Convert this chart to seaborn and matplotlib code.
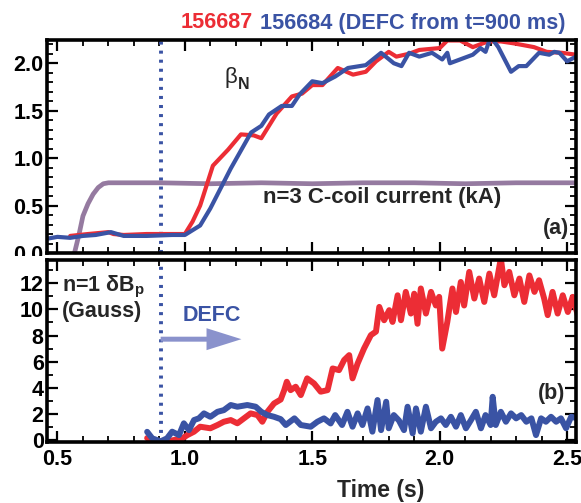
import matplotlib
matplotlib.use("Agg")
import numpy as np
import pandas as pd
import seaborn as sns
import matplotlib.pyplot as plt
from matplotlib.ticker import MultipleLocator, FormatStrFormatter
from matplotlib.patches import Rectangle

# ---------------- data ----------------
# beta_N, shot 156687 (red)
bn_red_t = [0.55, 0.62, 0.70, 0.72, 0.76, 0.85, 0.95, 1.00, 1.03, 1.06, 1.11, 1.17, 1.22, 1.27,
            1.30, 1.36, 1.42, 1.46, 1.50, 1.54, 1.60, 1.66, 1.71, 1.75, 1.80, 1.83, 1.88, 1.92,
            2.00, 2.03, 2.08, 2.13, 2.19, 2.24, 2.29, 2.37, 2.42, 2.48, 2.535]
bn_red_v = [0.18, 0.20, 0.22, 0.20, 0.19, 0.20, 0.20, 0.20, 0.33, 0.50, 0.92, 1.09, 1.25, 1.24,
            1.21, 1.47, 1.65, 1.68, 1.77, 1.77, 1.95, 1.88, 1.91, 2.02, 2.12, 2.07, 2.10, 2.14,
            2.16, 2.24, 2.24, 2.17, 2.23, 2.23, 2.21, 2.17, 2.12, 2.11, 2.09]
# beta_N, shot 156684 (blue)
bn_blue_t = [0.458, 0.50, 0.55, 0.60, 0.65, 0.71, 0.76, 0.85, 0.95, 1.00, 1.06, 1.10, 1.18, 1.26,
             1.30, 1.33, 1.38, 1.42, 1.45, 1.50, 1.54, 1.59, 1.64, 1.71, 1.77, 1.82, 1.85, 1.88,
             1.92, 1.97, 2.01, 2.03, 2.04, 2.08, 2.13, 2.16, 2.18, 2.20, 2.23, 2.28, 2.31, 2.34,
             2.39, 2.43, 2.45, 2.47, 2.50, 2.535]
bn_blue_v = [0.15, 0.17, 0.16, 0.18, 0.19, 0.22, 0.18, 0.18, 0.19, 0.19, 0.29, 0.47, 0.89, 1.27,
             1.34, 1.46, 1.55, 1.55, 1.67, 1.81, 1.79, 1.86, 1.95, 1.98, 2.11, 2.00, 1.97, 2.11,
             2.07, 2.11, 2.04, 2.11, 2.00, 2.04, 2.09, 2.16, 2.12, 2.28, 2.17, 1.91, 1.97, 1.97,
             2.11, 2.09, 2.12, 2.11, 2.02, 2.07]
# n=3 C-coil current (kA)
ccoil_t = [0.458, 0.565, 0.585, 0.60, 0.62, 0.64, 0.66, 0.68, 0.70, 0.90, 1.10, 1.30, 1.50,
           1.70, 1.90, 2.10, 2.30, 2.535]
ccoil_v = [-0.03, -0.02, 0.20, 0.39, 0.52, 0.62, 0.69, 0.73, 0.74, 0.74, 0.73, 0.74, 0.73,
           0.74, 0.74, 0.73, 0.74, 0.74]

# n=1 dBp (Gauss), shot 156687 (red)
db_red_t = [0.852, 0.87, 0.89, 0.93, 0.957, 0.99, 1.01, 1.036, 1.06, 1.10, 1.128, 1.153, 1.18,
            1.206, 1.232, 1.258, 1.285, 1.304, 1.324, 1.35, 1.376, 1.39, 1.40, 1.415, 1.435,
            1.455, 1.48, 1.507, 1.533, 1.56, 1.58, 1.605, 1.625, 1.645, 1.658, 1.678, 1.703,
            1.73, 1.75, 1.763, 1.782, 1.802, 1.815, 1.835, 1.848, 1.867, 1.887, 1.90, 1.913,
            1.926, 1.946, 1.966, 1.985, 1.998, 2.01, 2.03, 2.05, 2.064, 2.083, 2.096, 2.116,
            2.136, 2.155, 2.175, 2.195, 2.214, 2.24, 2.254, 2.273, 2.293, 2.313, 2.332, 2.352,
            2.372, 2.39, 2.41, 2.424, 2.443, 2.463, 2.483, 2.503, 2.522, 2.542]
db_red_v = [0.15, 0.0, -0.2, -0.1, 0.0, 0.13, 0.38, 0.64, 1.02, 0.9, 1.15, 1.4, 1.53,
            1.28, 1.66, 2.04, 1.91, 1.4, 2.16, 2.8, 3.1, 3.82, 4.46, 3.82, 4.08,
            3.44, 4.72, 4.33, 3.7, 3.82, 5.48, 5.35, 6.12, 6.5, 4.72, 5.86, 7.0,
            8.03, 8.3, 10.19, 9.17, 9.94, 9.04, 11.08, 9.17, 11.34, 9.68, 11.2, 8.9,
            11.6, 9.68, 11.34, 10.3, 10.96, 7.0, 9.04, 11.6, 9.8, 12.1, 10.3, 12.87,
            10.83, 12.36, 10.57, 12.74, 11.08, 13.9, 11.85, 12.87, 11.08, 12.36, 10.57, 12.6,
            11.34, 12.23, 10.83, 9.56, 11.34, 9.68, 11.08, 9.8, 10.96, 9.56]
# n=1 dBp (Gauss), shot 156684 (blue)
db_blue_t = [0.852, 0.872, 0.905, 0.93, 0.95, 0.977, 0.996, 1.016, 1.036, 1.055, 1.075, 1.10,
             1.128, 1.153, 1.18, 1.206, 1.245, 1.278, 1.30, 1.324, 1.35, 1.376, 1.396, 1.43,
             1.455, 1.494, 1.52, 1.546, 1.572, 1.59, 1.617, 1.638, 1.658, 1.678, 1.697, 1.717,
             1.736, 1.756, 1.77, 1.79, 1.80, 1.82, 1.84, 1.86, 1.874, 1.894, 1.907, 1.926,
             1.946, 1.966, 1.985, 2.005, 2.024, 2.044, 2.064, 2.083, 2.103, 2.122, 2.142,
             2.162, 2.18, 2.20, 2.208, 2.22, 2.24, 2.26, 2.28, 2.30, 2.32, 2.34, 2.36, 2.378,
             2.398, 2.417, 2.437, 2.457, 2.476, 2.496, 2.516, 2.542]
db_blue_v = [0.63, 0.13, -0.1, 0.13, 0.64, 0.38, 1.28, 0.76, 1.53, 1.66, 2.04, 1.78,
             2.16, 2.29, 2.68, 2.55, 2.68, 2.55, 2.16, 1.91, 1.78, 1.6, 1.15, 1.66,
             1.15, 1.02, 1.4, 1.66, 1.27, 1.91, 1.15, 2.16, 1.02, 2.04, 1.15, 2.42,
             0.64, 3.06, 0.76, 2.93, 0.9, 1.91, 1.5, 0.76, 2.55, 0.51, 2.42, 0.64,
             2.55, 0.9, 1.4, 1.66, 1.15, 1.78, 1.02, 1.91, 0.9, 1.5, 2.16,
             0.9, 1.91, 1.15, 3.31, 1.15, 2.16, 1.4, 2.04, 1.66, 1.91, 1.4, 1.66, 0.38,
             1.66, 1.4, 1.78, 1.4, 1.66, 0.9, 1.78, 1.66]

x_ticks = [0.5, 1.0, 1.5, 2.0, 2.5]
top_yticks = [0.0, 0.5, 1.0, 1.5, 2.0]
bot_yticks = [0, 2, 4, 6, 8, 10, 12]
defc_time = 0.905

# ---------------- style ----------------
sns.set_theme(style="ticks")
plt.rcParams["font.family"] = ["Liberation Sans", "DejaVu Sans"]
plt.rcParams["font.weight"] = "bold"
plt.rcParams["mathtext.fontset"] = "custom"
plt.rcParams["mathtext.rm"] = "Liberation Sans"
plt.rcParams["mathtext.bf"] = "Liberation Sans:bold"
plt.rcParams["mathtext.it"] = "Liberation Sans:italic"

RED = "#ec2d35"
BLUE = "#3a53a4"
PURPLE = "#8a6c96"
ARROW = "#8a92cc"

W, H = 581, 503
fig = plt.figure(figsize=(W / 100, H / 100), dpi=100)
ax1 = fig.add_axes([46.5 / W, 1 - 253 / H, 529.5 / W, 213 / H])
ax2 = fig.add_axes([46.5 / W, 1 - 442 / H, 529.5 / W, 182 / H])

# ---------------- top panel ----------------
sns.lineplot(data=pd.DataFrame({"t": ccoil_t, "v": ccoil_v}), x="t", y="v", ax=ax1,
             color=PURPLE, lw=3.4, sort=False, estimator=None, alpha=0.9)
sns.lineplot(data=pd.DataFrame({"t": bn_red_t, "v": bn_red_v}), x="t", y="v", ax=ax1,
             color=RED, lw=3.0, sort=False, estimator=None)
sns.lineplot(data=pd.DataFrame({"t": bn_blue_t, "v": bn_blue_v}), x="t", y="v", ax=ax1,
             color=BLUE, lw=3.0, sort=False, estimator=None)

# ---------------- bottom panel ----------------
sns.lineplot(data=pd.DataFrame({"t": db_red_t, "v": db_red_v}), x="t", y="v", ax=ax2,
             color=RED, lw=4.3, sort=False, estimator=None)
sns.lineplot(data=pd.DataFrame({"t": db_blue_t, "v": db_blue_v}), x="t", y="v", ax=ax2,
             color=BLUE, lw=4.3, sort=False, estimator=None)

for ax in (ax1, ax2):
    ax.axvline(defc_time, color=BLUE, lw=2.8, dashes=(0.78, 1.55), zorder=1)
    ax.set_xlim(0.457, 2.535)
    ax.set_xlabel("")
    ax.set_ylabel("")
    ax.set_xticks(x_ticks)
    ax.xaxis.set_minor_locator(MultipleLocator(0.1))
    ax.tick_params(which="both", direction="in", top=True, right=True,
                   labelsize=15.5, width=1.6, colors="black")
    ax.tick_params(which="major", length=8)
    ax.tick_params(which="minor", length=4, width=1.3)
    ax.tick_params(axis="y", pad=2)
    ax.tick_params(axis="x", pad=5)
    for s in ax.spines.values():
        s.set_linewidth(2.6)
        s.set_color("black")

ax1.set_ylim(0.01, 2.245)
ax1.set_yticks(top_yticks)
ax1.yaxis.set_minor_locator(MultipleLocator(0.1))
ax1.yaxis.set_major_formatter(FormatStrFormatter("%.1f"))
ax1.tick_params(labelbottom=False)

ax2.set_ylim(-0.15, 13.78)
ax2.set_yticks(bot_yticks)
ax2.yaxis.set_minor_locator(MultipleLocator(1))
ax2.xaxis.set_major_formatter(FormatStrFormatter("%.1f"))
for lab in ax1.get_yticklabels() + ax2.get_xticklabels() + ax2.get_yticklabels():
    lab.set_fontweight("bold")

# annotations top
ax1.text(1.157, 1.794, "β", fontsize=16, fontweight="normal", va="baseline", ha="left")
ax1.text(1.208, 1.73, "N", fontsize=11.5, fontweight="bold", va="baseline", ha="left")
ax1.text(1.306, 0.59, "n=3 C-coil current (kA)", fontsize=16, fontweight="bold",
         va="center", ha="left")
ax1.text(2.404, 0.26, "(a)", fontsize=15.5, fontweight="bold", va="center", ha="left")

# annotations bottom
ax2.text(0.518, 11.4, r"n=1 δB$_{\mathbf{p}}$", fontsize=15.5, fontweight="bold",
         va="baseline", ha="left")
ax2.text(0.518, 9.8, "(Gauss)", fontsize=15.5, fontweight="bold", va="center", ha="left")
ax2.text(0.993, 9.57, "DEFC", fontsize=15.5, fontweight="bold", color=BLUE,
         va="center", ha="left")
ax2.arrow(defc_time, 7.72, 1.222 - defc_time, 0, width=0.38, head_width=1.68,
          head_length=0.137, length_includes_head=True, color=ARROW, lw=0, zorder=3)
ax2.text(2.385, 3.6, "(b)", fontsize=15.5, fontweight="bold", va="center", ha="left")

# title
t_red = fig.text(181 / W, 1 - 23 / H, "156687", color=RED, fontsize=15.6,
                 fontweight="bold", va="center", ha="left")
fig.canvas.draw()
bb = t_red.get_window_extent()
fig.text((bb.x1 + 7) / W, 1 - 23 / H, "156684 (DEFC from t=900 ms)", color=BLUE,
         fontsize=15.6, fontweight="bold", va="center", ha="left")

# x label
fig.text(381 / W, 1 - 490 / H, "Time (s)", fontsize=16.5, fontweight="bold",
         va="center", ha="center")

# mask lower part of the top panel's "0.0" label as in the reference
fig.add_artist(Rectangle((0, 1 - 272 / H), 43 / W, 16 / H, transform=fig.transFigure,
                         facecolor="white", edgecolor="none", zorder=1))

fig.savefig("out.png", dpi=100)
